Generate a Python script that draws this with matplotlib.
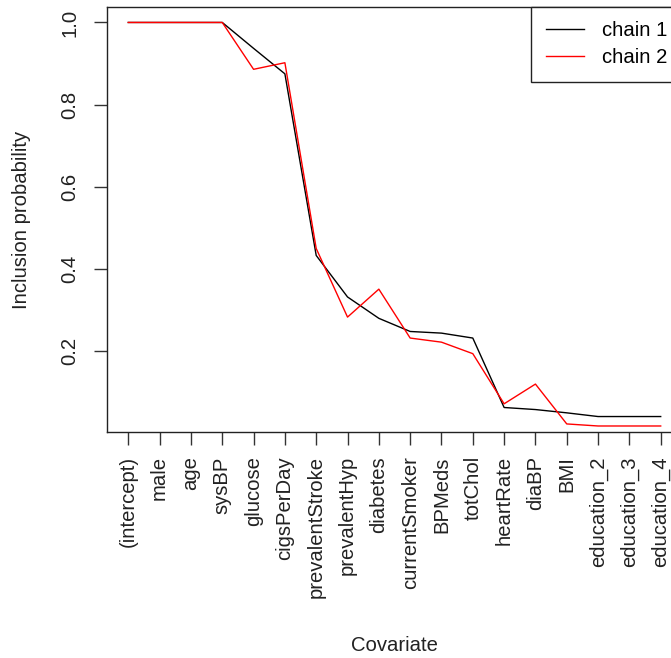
import matplotlib
matplotlib.use("Agg")
import matplotlib.pyplot as plt
import numpy as np

plt.rcParams['font.family'] = ['Liberation Sans', 'DejaVu Sans']

covariates = ["(intercept)", "male", "age", "sysBP", "glucose", "cigsPerDay",
              "prevalentStroke", "prevalentHyp", "diabetes", "currentSmoker",
              "BPMeds", "totChol", "heartRate", "diaBP", "BMI",
              "education_2", "education_3", "education_4"]
chain1 = [1.0, 1.0, 1.0, 1.0, 0.937, 0.875, 0.433, 0.332, 0.280, 0.248,
          0.244, 0.232, 0.063, 0.058, 0.050, 0.041, 0.041, 0.041]
chain2 = [1.0, 1.0, 1.0, 1.0, 0.886, 0.902, 0.450, 0.283, 0.351, 0.232,
          0.222, 0.194, 0.072, 0.120, 0.023, 0.018, 0.018, 0.018]
yticks = [0.2, 0.4, 0.6, 0.8, 1.0]
legend_labels = ["chain 1", "chain 2"]

W, H = 671, 658
fig = plt.figure(figsize=(W / 100, H / 100), dpi=100)
left, right, top, bottom = 107, 682, 6.7, 432.3
ax = fig.add_axes([left / W, 1 - bottom / H, (right - left) / W, (bottom - top) / H])

x = np.arange(1, len(covariates) + 1)
ax.plot(x, chain1, color='black', lw=1.0, label=legend_labels[0])
ax.plot(x, chain2, color='#FF0000', lw=1.0, label=legend_labels[1])

# R-style 4% padding, y range from first series
xr = x.max() - x.min()
ax.set_xlim(x.min() - 0.04 * xr, x.max() + 0.04 * xr)
ymin, ymax = min(chain1), max(chain1)
yr = ymax - ymin
ax.set_ylim(ymin - 0.04 * yr, ymax + 0.04 * yr)

fs = 14.6
ax.set_xticks(x)
ax.set_xticklabels(covariates, rotation=90, fontsize=fs, color='#222222')
ax.set_yticks(yticks)
ax.set_yticklabels([f"{v:.1f}" for v in yticks], rotation=90, va='center',
                   fontsize=fs, color='#222222')
ax.tick_params(axis='both', length=9.2, width=1.0, color='#333333')
ax.tick_params(axis='x', pad=8.0)
ax.tick_params(axis='y', pad=10.5)
for s in ax.spines.values():
    s.set_linewidth(1.0)
    s.set_color('#222222')

ax.set_ylabel("Inclusion probability", fontsize=fs, va='center', color='#222222')
ax.yaxis.set_label_coords(-0.148, 0.5)
ax.set_xlabel("Covariate", fontsize=fs, va='center', color='#222222')
ax.xaxis.set_label_coords(0.5, -0.5)

leg = ax.legend(loc='upper right', fontsize=fs, frameon=True, fancybox=False,
                edgecolor='#222222', framealpha=1, borderaxespad=0,
                handlelength=1.9, handletextpad=0.9, labelspacing=0.42,
                borderpad=0.7)
leg.get_frame().set_linewidth(1.0)

fig.savefig("out.png", dpi=100)
